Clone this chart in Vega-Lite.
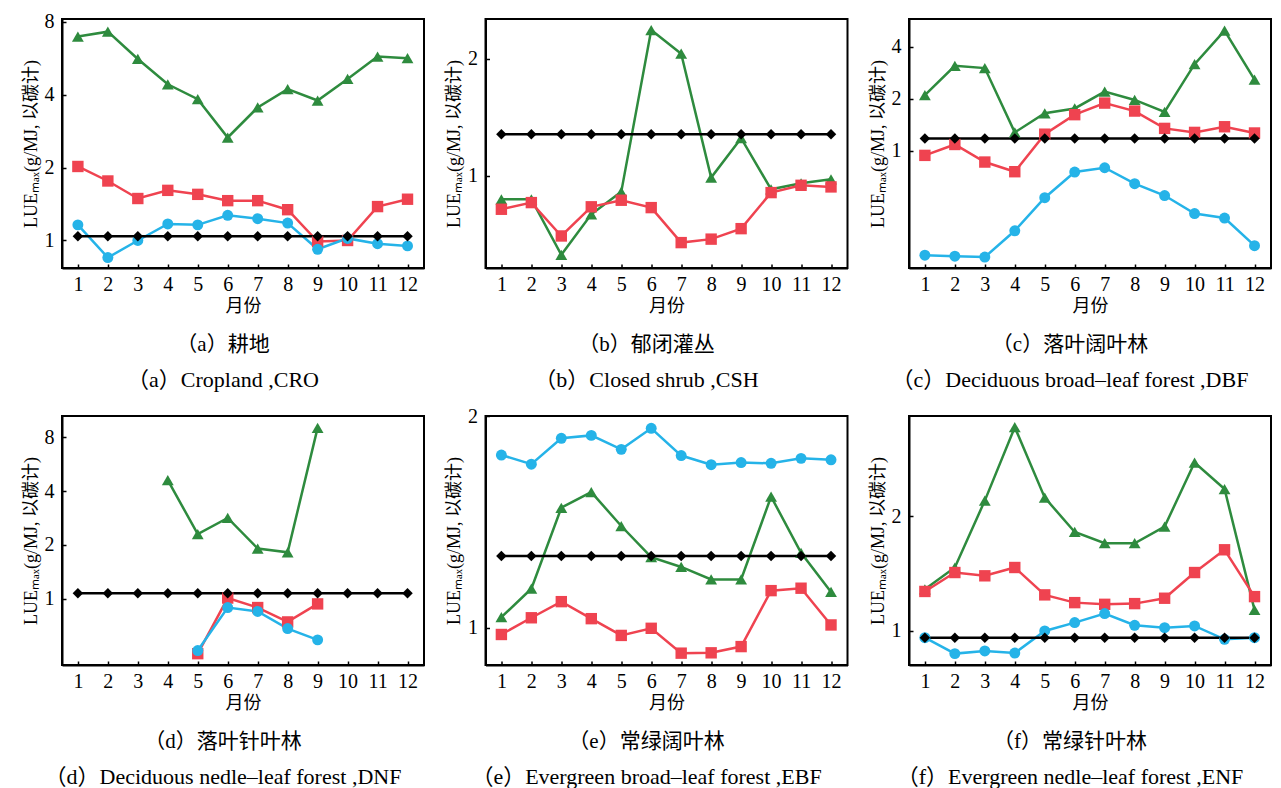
{
  "$schema": "https://vega.github.io/schema/vega-lite/v6.json",
  "padding": {"left": 21, "top": 10, "right": 2, "bottom": 2},
  "config": {
    "font": "Liberation Serif, Noto Sans CJK SC",
    "view": {"stroke": "#000", "strokeWidth": 2},
    "axis": {"domain": true, "domainColor": "#000", "domainWidth": 2, "ticks": true, "tickColor": "#000", "tickSize": -4, "tickWidth": 1.5, "grid": false, "labelFont": "Liberation Serif", "labelFontSize": 20, "labelColor": "#000", "titleFont": "Liberation Serif, Noto Sans CJK SC", "titleFontSize": 18, "titleFontWeight": "normal", "titleColor": "#000"},
    "axisX": {"labelPadding": 10, "titlePadding": 3, "labelAngle": 0, "labelFlush": false},
    "axisY": {"labelPadding": 12, "titlePadding": 4, "labelFlush": false},
    "title": {"orient": "bottom", "anchor": "middle", "frame": "bounds", "font": "Liberation Serif, Noto Sans CJK SC", "fontSize": 21, "fontWeight": "normal", "color": "#000", "subtitleFont": "Liberation Serif, Noto Sans CJK SC", "subtitleFontSize": 22, "subtitleColor": "#000", "offset": 19, "subtitlePadding": 15},
    "line": {"strokeWidth": 2.5},
    "point": {"filled": true, "opacity": 1}
  },
  "datasets": {
    "d": [
      {"p":"a","s":"s1","m":1,"v":6.94},{"p":"a","s":"s1","m":2,"v":7.27},{"p":"a","s":"s1","m":3,"v":5.61},{"p":"a","s":"s1","m":4,"v":4.41},{"p":"a","s":"s1","m":5,"v":3.83},{"p":"a","s":"s1","m":6,"v":2.66},{"p":"a","s":"s1","m":7,"v":3.54},{"p":"a","s":"s1","m":8,"v":4.21},{"p":"a","s":"s1","m":9,"v":3.78},{"p":"a","s":"s1","m":10,"v":4.64},{"p":"a","s":"s1","m":11,"v":5.74},{"p":"a","s":"s1","m":12,"v":5.65},
      {"p":"a","s":"s2","m":1,"v":2.02},{"p":"a","s":"s2","m":2,"v":1.76},{"p":"a","s":"s2","m":3,"v":1.49},{"p":"a","s":"s2","m":4,"v":1.61},{"p":"a","s":"s2","m":5,"v":1.55},{"p":"a","s":"s2","m":6,"v":1.46},{"p":"a","s":"s2","m":7,"v":1.46},{"p":"a","s":"s2","m":8,"v":1.34},{"p":"a","s":"s2","m":9,"v":0.99},{"p":"a","s":"s2","m":10,"v":1.0},{"p":"a","s":"s2","m":11,"v":1.38},{"p":"a","s":"s2","m":12,"v":1.48},
      {"p":"a","s":"s3","m":1,"v":1.16},{"p":"a","s":"s3","m":2,"v":0.85},{"p":"a","s":"s3","m":3,"v":1.0},{"p":"a","s":"s3","m":4,"v":1.17},{"p":"a","s":"s3","m":5,"v":1.16},{"p":"a","s":"s3","m":6,"v":1.27},{"p":"a","s":"s3","m":7,"v":1.23},{"p":"a","s":"s3","m":8,"v":1.18},{"p":"a","s":"s3","m":9,"v":0.92},{"p":"a","s":"s3","m":10,"v":1.02},{"p":"a","s":"s3","m":11,"v":0.97},{"p":"a","s":"s3","m":12,"v":0.95},
      {"p":"a","s":"s4","m":1,"v":1.04},{"p":"a","s":"s4","m":2,"v":1.04},{"p":"a","s":"s4","m":3,"v":1.04},{"p":"a","s":"s4","m":4,"v":1.04},{"p":"a","s":"s4","m":5,"v":1.04},{"p":"a","s":"s4","m":6,"v":1.04},{"p":"a","s":"s4","m":7,"v":1.04},{"p":"a","s":"s4","m":8,"v":1.04},{"p":"a","s":"s4","m":9,"v":1.04},{"p":"a","s":"s4","m":10,"v":1.04},{"p":"a","s":"s4","m":11,"v":1.04},{"p":"a","s":"s4","m":12,"v":1.04},

      {"p":"b","s":"s1","m":1,"v":0.871},{"p":"b","s":"s1","m":2,"v":0.871},{"p":"b","s":"s1","m":3,"v":0.627},{"p":"b","s":"s1","m":4,"v":0.797},{"p":"b","s":"s1","m":5,"v":0.91},{"p":"b","s":"s1","m":6,"v":2.37},{"p":"b","s":"s1","m":7,"v":2.06},{"p":"b","s":"s1","m":8,"v":0.99},{"p":"b","s":"s1","m":9,"v":1.25},{"p":"b","s":"s1","m":10,"v":0.924},{"p":"b","s":"s1","m":11,"v":0.957},{"p":"b","s":"s1","m":12,"v":0.98},
      {"p":"b","s":"s2","m":1,"v":0.821},{"p":"b","s":"s2","m":2,"v":0.854},{"p":"b","s":"s2","m":3,"v":0.701},{"p":"b","s":"s2","m":4,"v":0.833},{"p":"b","s":"s2","m":5,"v":0.866},{"p":"b","s":"s2","m":6,"v":0.829},{"p":"b","s":"s2","m":7,"v":0.674},{"p":"b","s":"s2","m":8,"v":0.688},{"p":"b","s":"s2","m":9,"v":0.732},{"p":"b","s":"s2","m":10,"v":0.906},{"p":"b","s":"s2","m":11,"v":0.946},{"p":"b","s":"s2","m":12,"v":0.937},
      {"p":"b","s":"s4","m":1,"v":1.279},{"p":"b","s":"s4","m":2,"v":1.279},{"p":"b","s":"s4","m":3,"v":1.279},{"p":"b","s":"s4","m":4,"v":1.279},{"p":"b","s":"s4","m":5,"v":1.279},{"p":"b","s":"s4","m":6,"v":1.279},{"p":"b","s":"s4","m":7,"v":1.279},{"p":"b","s":"s4","m":8,"v":1.279},{"p":"b","s":"s4","m":9,"v":1.279},{"p":"b","s":"s4","m":10,"v":1.279},{"p":"b","s":"s4","m":11,"v":1.279},{"p":"b","s":"s4","m":12,"v":1.279},

      {"p":"c","s":"s1","m":1,"v":2.1},{"p":"c","s":"s1","m":2,"v":3.1},{"p":"c","s":"s1","m":3,"v":3.01},{"p":"c","s":"s1","m":4,"v":1.28},{"p":"c","s":"s1","m":5,"v":1.65},{"p":"c","s":"s1","m":6,"v":1.76},{"p":"c","s":"s1","m":7,"v":2.2},{"p":"c","s":"s1","m":8,"v":1.97},{"p":"c","s":"s1","m":9,"v":1.68},{"p":"c","s":"s1","m":10,"v":3.17},{"p":"c","s":"s1","m":11,"v":4.95},{"p":"c","s":"s1","m":12,"v":2.58},
      {"p":"c","s":"s2","m":1,"v":0.943},{"p":"c","s":"s2","m":2,"v":1.09},{"p":"c","s":"s2","m":3,"v":0.863},{"p":"c","s":"s2","m":4,"v":0.759},{"p":"c","s":"s2","m":5,"v":1.25},{"p":"c","s":"s2","m":6,"v":1.62},{"p":"c","s":"s2","m":7,"v":1.89},{"p":"c","s":"s2","m":8,"v":1.7},{"p":"c","s":"s2","m":9,"v":1.35},{"p":"c","s":"s2","m":10,"v":1.28},{"p":"c","s":"s2","m":11,"v":1.38},{"p":"c","s":"s2","m":12,"v":1.27},
      {"p":"c","s":"s3","m":1,"v":0.25},{"p":"c","s":"s3","m":2,"v":0.247},{"p":"c","s":"s3","m":3,"v":0.244},{"p":"c","s":"s3","m":4,"v":0.346},{"p":"c","s":"s3","m":5,"v":0.537},{"p":"c","s":"s3","m":6,"v":0.756},{"p":"c","s":"s3","m":7,"v":0.8},{"p":"c","s":"s3","m":8,"v":0.647},{"p":"c","s":"s3","m":9,"v":0.553},{"p":"c","s":"s3","m":10,"v":0.435},{"p":"c","s":"s3","m":11,"v":0.41},{"p":"c","s":"s3","m":12,"v":0.284},
      {"p":"c","s":"s4","m":1,"v":1.18},{"p":"c","s":"s4","m":2,"v":1.18},{"p":"c","s":"s4","m":3,"v":1.18},{"p":"c","s":"s4","m":4,"v":1.18},{"p":"c","s":"s4","m":5,"v":1.18},{"p":"c","s":"s4","m":6,"v":1.18},{"p":"c","s":"s4","m":7,"v":1.18},{"p":"c","s":"s4","m":8,"v":1.18},{"p":"c","s":"s4","m":9,"v":1.18},{"p":"c","s":"s4","m":10,"v":1.18},{"p":"c","s":"s4","m":11,"v":1.18},{"p":"c","s":"s4","m":12,"v":1.18},

      {"p":"d","s":"s1","m":4,"v":4.6},{"p":"d","s":"s1","m":5,"v":2.3},{"p":"d","s":"s1","m":6,"v":2.83},{"p":"d","s":"s1","m":7,"v":1.91},{"p":"d","s":"s1","m":8,"v":1.82},{"p":"d","s":"s1","m":9,"v":9.01},
      {"p":"d","s":"s2","m":5,"v":0.494},{"p":"d","s":"s2","m":6,"v":1.01},{"p":"d","s":"s2","m":7,"v":0.894},{"p":"d","s":"s2","m":8,"v":0.743},{"p":"d","s":"s2","m":9,"v":0.937},
      {"p":"d","s":"s3","m":5,"v":0.514},{"p":"d","s":"s3","m":6,"v":0.894},{"p":"d","s":"s3","m":7,"v":0.85},{"p":"d","s":"s3","m":8,"v":0.682},{"p":"d","s":"s3","m":9,"v":0.59},
      {"p":"d","s":"s4","m":1,"v":1.076},{"p":"d","s":"s4","m":2,"v":1.076},{"p":"d","s":"s4","m":3,"v":1.076},{"p":"d","s":"s4","m":4,"v":1.076},{"p":"d","s":"s4","m":5,"v":1.076},{"p":"d","s":"s4","m":6,"v":1.076},{"p":"d","s":"s4","m":7,"v":1.076},{"p":"d","s":"s4","m":8,"v":1.076},{"p":"d","s":"s4","m":9,"v":1.076},{"p":"d","s":"s4","m":10,"v":1.076},{"p":"d","s":"s4","m":11,"v":1.076},{"p":"d","s":"s4","m":12,"v":1.076},

      {"p":"e","s":"s1","m":1,"v":1.035},{"p":"e","s":"s1","m":2,"v":1.136},{"p":"e","s":"s1","m":3,"v":1.481},{"p":"e","s":"s1","m":4,"v":1.559},{"p":"e","s":"s1","m":5,"v":1.395},{"p":"e","s":"s1","m":6,"v":1.26},{"p":"e","s":"s1","m":7,"v":1.22},{"p":"e","s":"s1","m":8,"v":1.171},{"p":"e","s":"s1","m":9,"v":1.171},{"p":"e","s":"s1","m":10,"v":1.536},{"p":"e","s":"s1","m":11,"v":1.278},{"p":"e","s":"s1","m":12,"v":1.124},
      {"p":"e","s":"s2","m":1,"v":0.978},{"p":"e","s":"s2","m":2,"v":1.033},{"p":"e","s":"s2","m":3,"v":1.089},{"p":"e","s":"s2","m":4,"v":1.03},{"p":"e","s":"s2","m":5,"v":0.975},{"p":"e","s":"s2","m":6,"v":0.998},{"p":"e","s":"s2","m":7,"v":0.92},{"p":"e","s":"s2","m":8,"v":0.921},{"p":"e","s":"s2","m":9,"v":0.94},{"p":"e","s":"s2","m":10,"v":1.129},{"p":"e","s":"s2","m":11,"v":1.138},{"p":"e","s":"s2","m":12,"v":1.009},
      {"p":"e","s":"s3","m":1,"v":1.76},{"p":"e","s":"s3","m":2,"v":1.708},{"p":"e","s":"s3","m":3,"v":1.859},{"p":"e","s":"s3","m":4,"v":1.877},{"p":"e","s":"s3","m":5,"v":1.793},{"p":"e","s":"s3","m":6,"v":1.921},{"p":"e","s":"s3","m":7,"v":1.757},{"p":"e","s":"s3","m":8,"v":1.705},{"p":"e","s":"s3","m":9,"v":1.717},{"p":"e","s":"s3","m":10,"v":1.713},{"p":"e","s":"s3","m":11,"v":1.741},{"p":"e","s":"s3","m":12,"v":1.733},
      {"p":"e","s":"s4","m":1,"v":1.265},{"p":"e","s":"s4","m":2,"v":1.265},{"p":"e","s":"s4","m":3,"v":1.265},{"p":"e","s":"s4","m":4,"v":1.265},{"p":"e","s":"s4","m":5,"v":1.265},{"p":"e","s":"s4","m":6,"v":1.265},{"p":"e","s":"s4","m":7,"v":1.265},{"p":"e","s":"s4","m":8,"v":1.265},{"p":"e","s":"s4","m":9,"v":1.265},{"p":"e","s":"s4","m":10,"v":1.265},{"p":"e","s":"s4","m":11,"v":1.265},{"p":"e","s":"s4","m":12,"v":1.265},

      {"p":"f","s":"s1","m":1,"v":1.287},{"p":"f","s":"s1","m":2,"v":1.468},{"p":"f","s":"s1","m":3,"v":2.2},{"p":"f","s":"s1","m":4,"v":3.43},{"p":"f","s":"s1","m":5,"v":2.24},{"p":"f","s":"s1","m":6,"v":1.82},{"p":"f","s":"s1","m":7,"v":1.7},{"p":"f","s":"s1","m":8,"v":1.7},{"p":"f","s":"s1","m":9,"v":1.88},{"p":"f","s":"s1","m":10,"v":2.77},{"p":"f","s":"s1","m":11,"v":2.36},{"p":"f","s":"s1","m":12,"v":1.136},
      {"p":"f","s":"s2","m":1,"v":1.27},{"p":"f","s":"s2","m":2,"v":1.424},{"p":"f","s":"s2","m":3,"v":1.396},{"p":"f","s":"s2","m":4,"v":1.468},{"p":"f","s":"s2","m":5,"v":1.244},{"p":"f","s":"s2","m":6,"v":1.187},{"p":"f","s":"s2","m":7,"v":1.175},{"p":"f","s":"s2","m":8,"v":1.18},{"p":"f","s":"s2","m":9,"v":1.219},{"p":"f","s":"s2","m":10,"v":1.424},{"p":"f","s":"s2","m":11,"v":1.634},{"p":"f","s":"s2","m":12,"v":1.231},
      {"p":"f","s":"s3","m":1,"v":0.96},{"p":"f","s":"s3","m":2,"v":0.872},{"p":"f","s":"s3","m":3,"v":0.886},{"p":"f","s":"s3","m":4,"v":0.875},{"p":"f","s":"s3","m":5,"v":1.0},{"p":"f","s":"s3","m":6,"v":1.052},{"p":"f","s":"s3","m":7,"v":1.111},{"p":"f","s":"s3","m":8,"v":1.035},{"p":"f","s":"s3","m":9,"v":1.02},{"p":"f","s":"s3","m":10,"v":1.031},{"p":"f","s":"s3","m":11,"v":0.951},{"p":"f","s":"s3","m":12,"v":0.96},
      {"p":"f","s":"s4","m":1,"v":0.96},{"p":"f","s":"s4","m":2,"v":0.96},{"p":"f","s":"s4","m":3,"v":0.96},{"p":"f","s":"s4","m":4,"v":0.96},{"p":"f","s":"s4","m":5,"v":0.96},{"p":"f","s":"s4","m":6,"v":0.96},{"p":"f","s":"s4","m":7,"v":0.96},{"p":"f","s":"s4","m":8,"v":0.96},{"p":"f","s":"s4","m":9,"v":0.96},{"p":"f","s":"s4","m":10,"v":0.96},{"p":"f","s":"s4","m":11,"v":0.96},{"p":"f","s":"s4","m":12,"v":0.96}
    ]
  },
  "columns": 3,
  "spacing": {"row": 13, "column": 19.5},
  "concat": [
    {
      "width": 362, "height": 249,
      "title": {"text": "（a）耕地", "subtitle": "（a）Cropland ,CRO"},
      "data": {"name": "d"},
      "transform": [{"filter": "datum.p == 'a'"}],
      "encoding": {
        "x": {"field": "m", "type": "quantitative", "scale": {"domain": [0.47, 12.55], "nice": false, "zero": false}, "axis": {"values": [1,2,3,4,5,6,7,8,9,10,11,12], "title": "月份"}},
        "y": {"field": "v", "type": "quantitative", "scale": {"type": "log", "domain": [0.77, 8.2], "nice": false}, "axis": {"values": [1,2,4,8], "format": "d", "title": "LUEₘₐₓ(g/MJ, 以碳计)"}},
        "color": {"field": "s", "type": "nominal", "scale": {"domain": ["s1","s2","s3","s4"], "range": ["#2e8b3e","#ef4350","#25b3e8","#000000"]}, "legend": null}
      },
      "layer": [
        {"mark": {"type": "line", "strokeWidth": 2.5}},
        {"mark": {"type": "point", "filled": true, "opacity": 1}, "encoding": {
          "shape": {"field": "s", "type": "nominal", "scale": {"domain": ["s1","s2","s3","s4"], "range": ["triangle-up","square","circle","diamond"]}, "legend": null},
          "size": {"field": "s", "type": "nominal", "scale": {"domain": ["s1","s2","s3","s4"], "range": [140,110,80,40]}, "legend": null}}}
      ]
    },
    {
      "width": 362, "height": 249,
      "title": {"text": "（b）郁闭灌丛", "subtitle": "（b）Closed shrub ,CSH"},
      "data": {"name": "d"},
      "transform": [{"filter": "datum.p == 'b'"}],
      "encoding": {
        "x": {"field": "m", "type": "quantitative", "scale": {"domain": [0.47, 12.55], "nice": false, "zero": false}, "axis": {"values": [1,2,3,4,5,6,7,8,9,10,11,12], "title": "月份"}},
        "y": {"field": "v", "type": "quantitative", "scale": {"type": "log", "domain": [0.58, 2.53], "nice": false}, "axis": {"values": [1,2], "format": "d", "title": "LUEₘₐₓ(g/MJ, 以碳计)"}},
        "color": {"field": "s", "type": "nominal", "scale": {"domain": ["s1","s2","s3","s4"], "range": ["#2e8b3e","#ef4350","#25b3e8","#000000"]}, "legend": null}
      },
      "layer": [
        {"mark": {"type": "line", "strokeWidth": 2.5}},
        {"mark": {"type": "point", "filled": true, "opacity": 1}, "encoding": {
          "shape": {"field": "s", "type": "nominal", "scale": {"domain": ["s1","s2","s3","s4"], "range": ["triangle-up","square","circle","diamond"]}, "legend": null},
          "size": {"field": "s", "type": "nominal", "scale": {"domain": ["s1","s2","s3","s4"], "range": [140,110,80,40]}, "legend": null}}}
      ]
    },
    {
      "width": 362, "height": 249,
      "title": {"text": "（c）落叶阔叶林", "subtitle": "（c）Deciduous broad–leaf forest ,DBF"},
      "data": {"name": "d"},
      "transform": [{"filter": "datum.p == 'c'"}],
      "encoding": {
        "x": {"field": "m", "type": "quantitative", "scale": {"domain": [0.47, 12.55], "nice": false, "zero": false}, "axis": {"values": [1,2,3,4,5,6,7,8,9,10,11,12], "title": "月份"}},
        "y": {"field": "v", "type": "quantitative", "scale": {"type": "log", "domain": [0.211, 5.78], "nice": false}, "axis": {"values": [1,2,4], "format": "d", "title": "LUEₘₐₓ(g/MJ, 以碳计)"}},
        "color": {"field": "s", "type": "nominal", "scale": {"domain": ["s1","s2","s3","s4"], "range": ["#2e8b3e","#ef4350","#25b3e8","#000000"]}, "legend": null}
      },
      "layer": [
        {"mark": {"type": "line", "strokeWidth": 2.5}},
        {"mark": {"type": "point", "filled": true, "opacity": 1}, "encoding": {
          "shape": {"field": "s", "type": "nominal", "scale": {"domain": ["s1","s2","s3","s4"], "range": ["triangle-up","square","circle","diamond"]}, "legend": null},
          "size": {"field": "s", "type": "nominal", "scale": {"domain": ["s1","s2","s3","s4"], "range": [140,110,80,40]}, "legend": null}}}
      ]
    },
    {
      "width": 362, "height": 249,
      "title": {"text": "（d）落叶针叶林", "subtitle": "（d）Deciduous nedle–leaf forest ,DNF"},
      "data": {"name": "d"},
      "transform": [{"filter": "datum.p == 'd'"}],
      "encoding": {
        "x": {"field": "m", "type": "quantitative", "scale": {"domain": [0.47, 12.55], "nice": false, "zero": false}, "axis": {"values": [1,2,3,4,5,6,7,8,9,10,11,12], "title": "月份"}},
        "y": {"field": "v", "type": "quantitative", "scale": {"type": "log", "domain": [0.427, 10.5], "nice": false}, "axis": {"values": [1,2,4,8], "format": "d", "title": "LUEₘₐₓ(g/MJ, 以碳计)"}},
        "color": {"field": "s", "type": "nominal", "scale": {"domain": ["s1","s2","s3","s4"], "range": ["#2e8b3e","#ef4350","#25b3e8","#000000"]}, "legend": null}
      },
      "layer": [
        {"mark": {"type": "line", "strokeWidth": 2.5}},
        {"mark": {"type": "point", "filled": true, "opacity": 1}, "encoding": {
          "shape": {"field": "s", "type": "nominal", "scale": {"domain": ["s1","s2","s3","s4"], "range": ["triangle-up","square","circle","diamond"]}, "legend": null},
          "size": {"field": "s", "type": "nominal", "scale": {"domain": ["s1","s2","s3","s4"], "range": [140,110,80,40]}, "legend": null}}}
      ]
    },
    {
      "width": 362, "height": 249,
      "title": {"text": "（e）常绿阔叶林", "subtitle": "（e）Evergreen broad–leaf forest ,EBF"},
      "data": {"name": "d"},
      "transform": [{"filter": "datum.p == 'e'"}],
      "encoding": {
        "x": {"field": "m", "type": "quantitative", "scale": {"domain": [0.47, 12.55], "nice": false, "zero": false}, "axis": {"values": [1,2,3,4,5,6,7,8,9,10,11,12], "title": "月份"}},
        "y": {"field": "v", "type": "quantitative", "scale": {"type": "log", "domain": [0.885, 2], "nice": false}, "axis": {"values": [1,2], "format": "d", "title": "LUEₘₐₓ(g/MJ, 以碳计)"}},
        "color": {"field": "s", "type": "nominal", "scale": {"domain": ["s1","s2","s3","s4"], "range": ["#2e8b3e","#ef4350","#25b3e8","#000000"]}, "legend": null}
      },
      "layer": [
        {"mark": {"type": "line", "strokeWidth": 2.5}},
        {"mark": {"type": "point", "filled": true, "opacity": 1}, "encoding": {
          "shape": {"field": "s", "type": "nominal", "scale": {"domain": ["s1","s2","s3","s4"], "range": ["triangle-up","square","circle","diamond"]}, "legend": null},
          "size": {"field": "s", "type": "nominal", "scale": {"domain": ["s1","s2","s3","s4"], "range": [140,110,80,40]}, "legend": null}}}
      ]
    },
    {
      "width": 362, "height": 249,
      "title": {"text": "（f）常绿针叶林", "subtitle": "（f）Evergreen nedle–leaf forest ,ENF"},
      "data": {"name": "d"},
      "transform": [{"filter": "datum.p == 'f'"}],
      "encoding": {
        "x": {"field": "m", "type": "quantitative", "scale": {"domain": [0.47, 12.55], "nice": false, "zero": false}, "axis": {"values": [1,2,3,4,5,6,7,8,9,10,11,12], "title": "月份"}},
        "y": {"field": "v", "type": "quantitative", "scale": {"type": "log", "domain": [0.814, 3.67], "nice": false}, "axis": {"values": [1,2], "format": "d", "title": "LUEₘₐₓ(g/MJ, 以碳计)"}},
        "color": {"field": "s", "type": "nominal", "scale": {"domain": ["s1","s2","s3","s4"], "range": ["#2e8b3e","#ef4350","#25b3e8","#000000"]}, "legend": null}
      },
      "layer": [
        {"mark": {"type": "line", "strokeWidth": 2.5}},
        {"mark": {"type": "point", "filled": true, "opacity": 1}, "encoding": {
          "shape": {"field": "s", "type": "nominal", "scale": {"domain": ["s1","s2","s3","s4"], "range": ["triangle-up","square","circle","diamond"]}, "legend": null},
          "size": {"field": "s", "type": "nominal", "scale": {"domain": ["s1","s2","s3","s4"], "range": [140,110,80,40]}, "legend": null}}}
      ]
    }
  ]
}
